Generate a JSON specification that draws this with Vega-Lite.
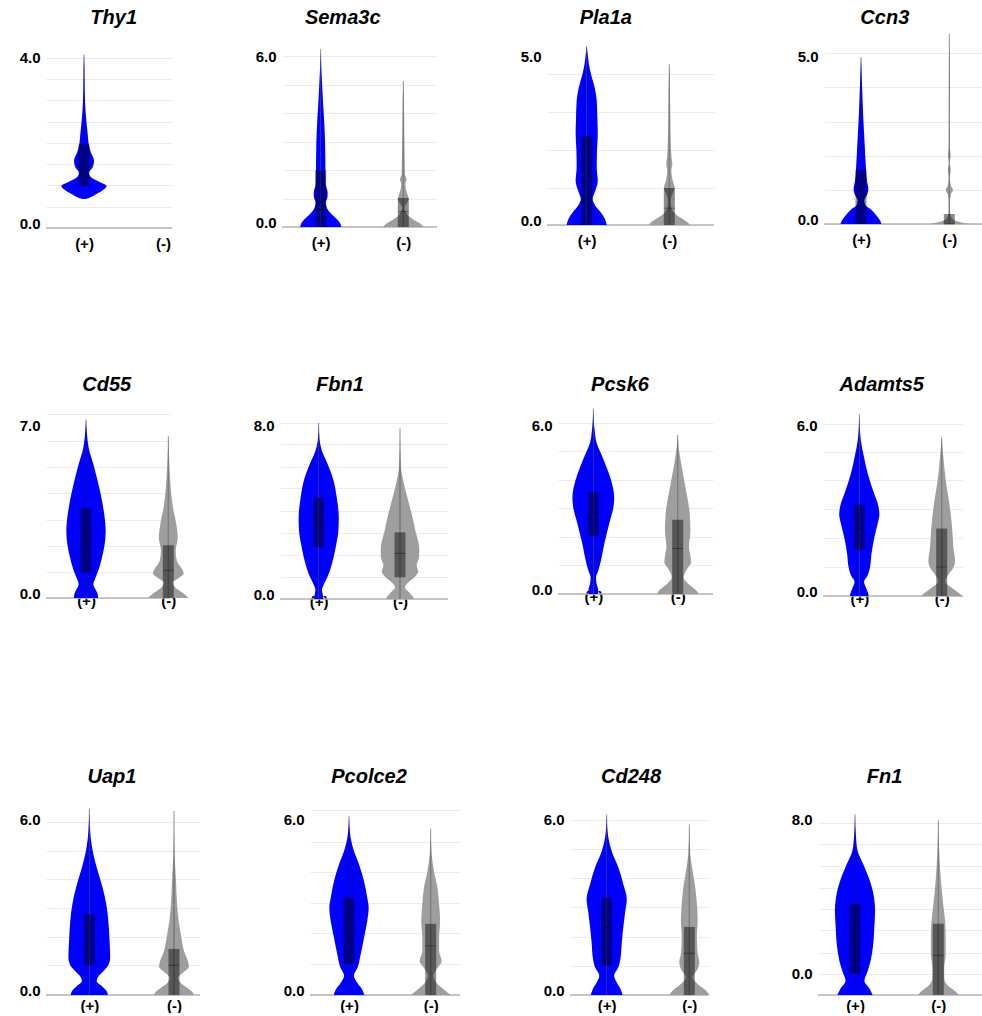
{
"$schema": "https://vega.github.io/schema/vega-lite/v6.json",
"background": "white",
"padding": {"left": 19, "top": 8, "right": 0, "bottom": 0},
"config": {
 "view": {"stroke": null},
 "font": "Liberation Sans",
 "axis": {"labelFont": "Liberation Sans", "labelFontSize": 15, "labelFontWeight": "bold", "labelColor": "#000000", "domain": false, "ticks": false, "tickSize": 0, "labelOverlap": false, "labelFlush": false},
 "axisY": {"labelPadding": 6, "grid": true, "gridColor": "#ececec", "gridWidth": 1},
 "axisX": {"grid": false, "labelAngle": 0},
 "title": {"font": "Liberation Sans", "fontSize": 20, "fontWeight": "bold", "fontStyle": "italic", "color": "#000000", "baseline": "alphabetic", "anchor": "middle", "frame": "group"}
},
"datasets": {
 "violin": [
  {"gene":"Thy1","grp":"(+)","v":4.08,"d":0},{"gene":"Thy1","grp":"(+)","v":3.78,"d":0.02},{"gene":"Thy1","grp":"(+)","v":3.39,"d":0.03},{"gene":"Thy1","grp":"(+)","v":2.99,"d":0.05},{"gene":"Thy1","grp":"(+)","v":2.6,"d":0.1},{"gene":"Thy1","grp":"(+)","v":2.21,"d":0.18},{"gene":"Thy1","grp":"(+)","v":1.97,"d":0.23},{"gene":"Thy1","grp":"(+)","v":1.78,"d":0.33},{"gene":"Thy1","grp":"(+)","v":1.58,"d":0.49},{"gene":"Thy1","grp":"(+)","v":1.42,"d":0.41},{"gene":"Thy1","grp":"(+)","v":1.3,"d":0.23},{"gene":"Thy1","grp":"(+)","v":1.19,"d":0.36},{"gene":"Thy1","grp":"(+)","v":1.07,"d":0.81},{"gene":"Thy1","grp":"(+)","v":0.99,"d":1.1},{"gene":"Thy1","grp":"(+)","v":0.91,"d":0.98},{"gene":"Thy1","grp":"(+)","v":0.81,"d":0.65},{"gene":"Thy1","grp":"(+)","v":0.73,"d":0.35},{"gene":"Thy1","grp":"(+)","v":0.69,"d":0.12},{"gene":"Thy1","grp":"(+)","v":0.68,"d":0},

  {"gene":"Sema3c","grp":"(+)","v":6.25,"d":0},{"gene":"Sema3c","grp":"(+)","v":5.6,"d":0.03},{"gene":"Sema3c","grp":"(+)","v":5.02,"d":0.07},{"gene":"Sema3c","grp":"(+)","v":4.43,"d":0.11},{"gene":"Sema3c","grp":"(+)","v":3.85,"d":0.16},{"gene":"Sema3c","grp":"(+)","v":3.03,"d":0.21},{"gene":"Sema3c","grp":"(+)","v":2.09,"d":0.23},{"gene":"Sema3c","grp":"(+)","v":1.51,"d":0.24},{"gene":"Sema3c","grp":"(+)","v":1.22,"d":0.34},{"gene":"Sema3c","grp":"(+)","v":1.04,"d":0.33},{"gene":"Sema3c","grp":"(+)","v":0.87,"d":0.24},{"gene":"Sema3c","grp":"(+)","v":0.63,"d":0.33},{"gene":"Sema3c","grp":"(+)","v":0.46,"d":0.52},{"gene":"Sema3c","grp":"(+)","v":0.28,"d":0.78},{"gene":"Sema3c","grp":"(+)","v":0.14,"d":0.94},{"gene":"Sema3c","grp":"(+)","v":0,"d":1},
  {"gene":"Sema3c","grp":"(-)","v":5.13,"d":0},{"gene":"Sema3c","grp":"(-)","v":4.43,"d":0.03},{"gene":"Sema3c","grp":"(-)","v":3.26,"d":0.05},{"gene":"Sema3c","grp":"(-)","v":2.33,"d":0.07},{"gene":"Sema3c","grp":"(-)","v":1.86,"d":0.08},{"gene":"Sema3c","grp":"(-)","v":1.68,"d":0.16},{"gene":"Sema3c","grp":"(-)","v":1.51,"d":0.1},{"gene":"Sema3c","grp":"(-)","v":1.33,"d":0.13},{"gene":"Sema3c","grp":"(-)","v":1.16,"d":0.2},{"gene":"Sema3c","grp":"(-)","v":0.98,"d":0.26},{"gene":"Sema3c","grp":"(-)","v":0.83,"d":0.16},{"gene":"Sema3c","grp":"(-)","v":0.69,"d":0.05},{"gene":"Sema3c","grp":"(-)","v":0.51,"d":0.13},{"gene":"Sema3c","grp":"(-)","v":0.34,"d":0.33},{"gene":"Sema3c","grp":"(-)","v":0.19,"d":0.65},{"gene":"Sema3c","grp":"(-)","v":0.08,"d":0.89},{"gene":"Sema3c","grp":"(-)","v":0,"d":1},

  {"gene":"Pla1a","grp":"(+)","v":5.32,"d":0},{"gene":"Pla1a","grp":"(+)","v":5.07,"d":0.05},{"gene":"Pla1a","grp":"(+)","v":4.77,"d":0.11},{"gene":"Pla1a","grp":"(+)","v":4.48,"d":0.21},{"gene":"Pla1a","grp":"(+)","v":4.08,"d":0.39},{"gene":"Pla1a","grp":"(+)","v":3.69,"d":0.49},{"gene":"Pla1a","grp":"(+)","v":3.19,"d":0.52},{"gene":"Pla1a","grp":"(+)","v":2.7,"d":0.54},{"gene":"Pla1a","grp":"(+)","v":2.2,"d":0.5},{"gene":"Pla1a","grp":"(+)","v":1.71,"d":0.49},{"gene":"Pla1a","grp":"(+)","v":1.31,"d":0.54},{"gene":"Pla1a","grp":"(+)","v":1.02,"d":0.42},{"gene":"Pla1a","grp":"(+)","v":0.77,"d":0.29},{"gene":"Pla1a","grp":"(+)","v":0.57,"d":0.42},{"gene":"Pla1a","grp":"(+)","v":0.38,"d":0.68},{"gene":"Pla1a","grp":"(+)","v":0.18,"d":0.89},{"gene":"Pla1a","grp":"(+)","v":0,"d":0.98},
  {"gene":"Pla1a","grp":"(-)","v":4.79,"d":0},{"gene":"Pla1a","grp":"(-)","v":4.18,"d":0.03},{"gene":"Pla1a","grp":"(-)","v":3.19,"d":0.05},{"gene":"Pla1a","grp":"(-)","v":2.5,"d":0.07},{"gene":"Pla1a","grp":"(-)","v":2.01,"d":0.11},{"gene":"Pla1a","grp":"(-)","v":1.81,"d":0.15},{"gene":"Pla1a","grp":"(-)","v":1.61,"d":0.1},{"gene":"Pla1a","grp":"(-)","v":1.36,"d":0.15},{"gene":"Pla1a","grp":"(-)","v":1.1,"d":0.26},{"gene":"Pla1a","grp":"(-)","v":0.92,"d":0.15},{"gene":"Pla1a","grp":"(-)","v":0.72,"d":0.07},{"gene":"Pla1a","grp":"(-)","v":0.52,"d":0.1},{"gene":"Pla1a","grp":"(-)","v":0.33,"d":0.29},{"gene":"Pla1a","grp":"(-)","v":0.18,"d":0.65},{"gene":"Pla1a","grp":"(-)","v":0.08,"d":0.89},{"gene":"Pla1a","grp":"(-)","v":0,"d":1},

  {"gene":"Ccn3","grp":"(+)","v":5,"d":0},{"gene":"Ccn3","grp":"(+)","v":4.18,"d":0.05},{"gene":"Ccn3","grp":"(+)","v":3.19,"d":0.11},{"gene":"Ccn3","grp":"(+)","v":2.39,"d":0.18},{"gene":"Ccn3","grp":"(+)","v":1.69,"d":0.24},{"gene":"Ccn3","grp":"(+)","v":1.29,"d":0.29},{"gene":"Ccn3","grp":"(+)","v":1.05,"d":0.36},{"gene":"Ccn3","grp":"(+)","v":0.85,"d":0.28},{"gene":"Ccn3","grp":"(+)","v":0.7,"d":0.16},{"gene":"Ccn3","grp":"(+)","v":0.58,"d":0.2},{"gene":"Ccn3","grp":"(+)","v":0.45,"d":0.46},{"gene":"Ccn3","grp":"(+)","v":0.25,"d":0.76},{"gene":"Ccn3","grp":"(+)","v":0.1,"d":0.94},{"gene":"Ccn3","grp":"(+)","v":0,"d":1},
  {"gene":"Ccn3","grp":"(-)","v":5.7,"d":0},{"gene":"Ccn3","grp":"(-)","v":4.68,"d":0.02},{"gene":"Ccn3","grp":"(-)","v":2.29,"d":0.03},{"gene":"Ccn3","grp":"(-)","v":2.04,"d":0.07},{"gene":"Ccn3","grp":"(-)","v":1.84,"d":0.02},{"gene":"Ccn3","grp":"(-)","v":1.61,"d":0.07},{"gene":"Ccn3","grp":"(-)","v":1.39,"d":0.03},{"gene":"Ccn3","grp":"(-)","v":1.15,"d":0.07},{"gene":"Ccn3","grp":"(-)","v":1.02,"d":0.18},{"gene":"Ccn3","grp":"(-)","v":0.88,"d":0.07},{"gene":"Ccn3","grp":"(-)","v":0.6,"d":0.03},{"gene":"Ccn3","grp":"(-)","v":0.3,"d":0.05},{"gene":"Ccn3","grp":"(-)","v":0.15,"d":0.16},{"gene":"Ccn3","grp":"(-)","v":0.06,"d":0.49},{"gene":"Ccn3","grp":"(-)","v":0,"d":1},

  {"gene":"Cd55","grp":"(+)","v":7.24,"d":0},{"gene":"Cd55","grp":"(+)","v":6.64,"d":0.05},{"gene":"Cd55","grp":"(+)","v":6.09,"d":0.13},{"gene":"Cd55","grp":"(+)","v":5.42,"d":0.36},{"gene":"Cd55","grp":"(+)","v":4.74,"d":0.57},{"gene":"Cd55","grp":"(+)","v":4.07,"d":0.75},{"gene":"Cd55","grp":"(+)","v":3.39,"d":0.89},{"gene":"Cd55","grp":"(+)","v":2.72,"d":0.96},{"gene":"Cd55","grp":"(+)","v":2.18,"d":0.91},{"gene":"Cd55","grp":"(+)","v":1.64,"d":0.78},{"gene":"Cd55","grp":"(+)","v":1.16,"d":0.62},{"gene":"Cd55","grp":"(+)","v":0.82,"d":0.46},{"gene":"Cd55","grp":"(+)","v":0.55,"d":0.36},{"gene":"Cd55","grp":"(+)","v":0.31,"d":0.49},{"gene":"Cd55","grp":"(+)","v":0.15,"d":0.57},{"gene":"Cd55","grp":"(+)","v":0,"d":0.59},
  {"gene":"Cd55","grp":"(-)","v":6.57,"d":0},{"gene":"Cd55","grp":"(-)","v":5.42,"d":0.05},{"gene":"Cd55","grp":"(-)","v":4.34,"d":0.13},{"gene":"Cd55","grp":"(-)","v":3.66,"d":0.23},{"gene":"Cd55","grp":"(-)","v":2.99,"d":0.39},{"gene":"Cd55","grp":"(-)","v":2.45,"d":0.46},{"gene":"Cd55","grp":"(-)","v":1.91,"d":0.36},{"gene":"Cd55","grp":"(-)","v":1.5,"d":0.42},{"gene":"Cd55","grp":"(-)","v":1.16,"d":0.68},{"gene":"Cd55","grp":"(-)","v":0.99,"d":0.75},{"gene":"Cd55","grp":"(-)","v":0.8,"d":0.49},{"gene":"Cd55","grp":"(-)","v":0.62,"d":0.2},{"gene":"Cd55","grp":"(-)","v":0.42,"d":0.36},{"gene":"Cd55","grp":"(-)","v":0.22,"d":0.68},{"gene":"Cd55","grp":"(-)","v":0.08,"d":0.89},{"gene":"Cd55","grp":"(-)","v":0,"d":0.98},

  {"gene":"Fbn1","grp":"(+)","v":8.12,"d":0},{"gene":"Fbn1","grp":"(+)","v":7.28,"d":0.05},{"gene":"Fbn1","grp":"(+)","v":6.82,"d":0.16},{"gene":"Fbn1","grp":"(+)","v":6.21,"d":0.44},{"gene":"Fbn1","grp":"(+)","v":5.44,"d":0.73},{"gene":"Fbn1","grp":"(+)","v":4.67,"d":0.88},{"gene":"Fbn1","grp":"(+)","v":3.75,"d":0.98},{"gene":"Fbn1","grp":"(+)","v":3.14,"d":0.96},{"gene":"Fbn1","grp":"(+)","v":2.53,"d":0.86},{"gene":"Fbn1","grp":"(+)","v":1.92,"d":0.73},{"gene":"Fbn1","grp":"(+)","v":1.38,"d":0.57},{"gene":"Fbn1","grp":"(+)","v":1,"d":0.42},{"gene":"Fbn1","grp":"(+)","v":0.69,"d":0.26},{"gene":"Fbn1","grp":"(+)","v":0.41,"d":0.16},{"gene":"Fbn1","grp":"(+)","v":0.2,"d":0.2},{"gene":"Fbn1","grp":"(+)","v":0,"d":0.23},
  {"gene":"Fbn1","grp":"(-)","v":7.86,"d":0},{"gene":"Fbn1","grp":"(-)","v":6.05,"d":0.05},{"gene":"Fbn1","grp":"(-)","v":5.44,"d":0.16},{"gene":"Fbn1","grp":"(-)","v":4.67,"d":0.36},{"gene":"Fbn1","grp":"(-)","v":3.91,"d":0.57},{"gene":"Fbn1","grp":"(-)","v":3.14,"d":0.75},{"gene":"Fbn1","grp":"(-)","v":2.3,"d":0.94},{"gene":"Fbn1","grp":"(-)","v":1.92,"d":0.93},{"gene":"Fbn1","grp":"(-)","v":1.53,"d":0.81},{"gene":"Fbn1","grp":"(-)","v":1.27,"d":0.89},{"gene":"Fbn1","grp":"(-)","v":1.03,"d":0.73},{"gene":"Fbn1","grp":"(-)","v":0.77,"d":0.41},{"gene":"Fbn1","grp":"(-)","v":0.54,"d":0.24},{"gene":"Fbn1","grp":"(-)","v":0.31,"d":0.44},{"gene":"Fbn1","grp":"(-)","v":0.11,"d":0.62},{"gene":"Fbn1","grp":"(-)","v":0,"d":0.68},

  {"gene":"Pcsk6","grp":"(+)","v":6.6,"d":0},{"gene":"Pcsk6","grp":"(+)","v":5.8,"d":0.07},{"gene":"Pcsk6","grp":"(+)","v":5.38,"d":0.16},{"gene":"Pcsk6","grp":"(+)","v":4.97,"d":0.39},{"gene":"Pcsk6","grp":"(+)","v":4.5,"d":0.65},{"gene":"Pcsk6","grp":"(+)","v":4.02,"d":0.88},{"gene":"Pcsk6","grp":"(+)","v":3.43,"d":1.02},{"gene":"Pcsk6","grp":"(+)","v":3.08,"d":0.98},{"gene":"Pcsk6","grp":"(+)","v":2.6,"d":0.81},{"gene":"Pcsk6","grp":"(+)","v":2.13,"d":0.65},{"gene":"Pcsk6","grp":"(+)","v":1.66,"d":0.5},{"gene":"Pcsk6","grp":"(+)","v":1.18,"d":0.37},{"gene":"Pcsk6","grp":"(+)","v":0.83,"d":0.24},{"gene":"Pcsk6","grp":"(+)","v":0.59,"d":0.13},{"gene":"Pcsk6","grp":"(+)","v":0.36,"d":0.16},{"gene":"Pcsk6","grp":"(+)","v":0.14,"d":0.24},{"gene":"Pcsk6","grp":"(+)","v":0,"d":0.24},
  {"gene":"Pcsk6","grp":"(-)","v":5.66,"d":0},{"gene":"Pcsk6","grp":"(-)","v":5.21,"d":0.05},{"gene":"Pcsk6","grp":"(-)","v":4.5,"d":0.2},{"gene":"Pcsk6","grp":"(-)","v":3.67,"d":0.41},{"gene":"Pcsk6","grp":"(-)","v":2.84,"d":0.59},{"gene":"Pcsk6","grp":"(-)","v":2.25,"d":0.62},{"gene":"Pcsk6","grp":"(-)","v":1.66,"d":0.55},{"gene":"Pcsk6","grp":"(-)","v":1.36,"d":0.62},{"gene":"Pcsk6","grp":"(-)","v":1.12,"d":0.65},{"gene":"Pcsk6","grp":"(-)","v":0.89,"d":0.46},{"gene":"Pcsk6","grp":"(-)","v":0.59,"d":0.29},{"gene":"Pcsk6","grp":"(-)","v":0.36,"d":0.52},{"gene":"Pcsk6","grp":"(-)","v":0.14,"d":0.89},{"gene":"Pcsk6","grp":"(-)","v":0,"d":1.02},

  {"gene":"Adamts5","grp":"(+)","v":6.39,"d":0},{"gene":"Adamts5","grp":"(+)","v":5.45,"d":0.08},{"gene":"Adamts5","grp":"(+)","v":4.98,"d":0.2},{"gene":"Adamts5","grp":"(+)","v":4.28,"d":0.42},{"gene":"Adamts5","grp":"(+)","v":3.69,"d":0.68},{"gene":"Adamts5","grp":"(+)","v":3.16,"d":0.93},{"gene":"Adamts5","grp":"(+)","v":2.87,"d":0.98},{"gene":"Adamts5","grp":"(+)","v":2.52,"d":0.89},{"gene":"Adamts5","grp":"(+)","v":2.05,"d":0.73},{"gene":"Adamts5","grp":"(+)","v":1.46,"d":0.59},{"gene":"Adamts5","grp":"(+)","v":1,"d":0.52},{"gene":"Adamts5","grp":"(+)","v":0.7,"d":0.39},{"gene":"Adamts5","grp":"(+)","v":0.5,"d":0.23},{"gene":"Adamts5","grp":"(+)","v":0.29,"d":0.33},{"gene":"Adamts5","grp":"(+)","v":0.12,"d":0.42},{"gene":"Adamts5","grp":"(+)","v":0,"d":0.46},
  {"gene":"Adamts5","grp":"(-)","v":5.59,"d":0},{"gene":"Adamts5","grp":"(-)","v":4.98,"d":0.07},{"gene":"Adamts5","grp":"(-)","v":4.04,"d":0.2},{"gene":"Adamts5","grp":"(-)","v":3.46,"d":0.33},{"gene":"Adamts5","grp":"(-)","v":2.87,"d":0.44},{"gene":"Adamts5","grp":"(-)","v":2.29,"d":0.52},{"gene":"Adamts5","grp":"(-)","v":1.7,"d":0.57},{"gene":"Adamts5","grp":"(-)","v":1.23,"d":0.65},{"gene":"Adamts5","grp":"(-)","v":1,"d":0.57},{"gene":"Adamts5","grp":"(-)","v":0.76,"d":0.33},{"gene":"Adamts5","grp":"(-)","v":0.53,"d":0.16},{"gene":"Adamts5","grp":"(-)","v":0.29,"d":0.49},{"gene":"Adamts5","grp":"(-)","v":0.12,"d":0.81},{"gene":"Adamts5","grp":"(-)","v":0,"d":1},

  {"gene":"Uap1","grp":"(+)","v":6.4,"d":0},{"gene":"Uap1","grp":"(+)","v":5.39,"d":0.07},{"gene":"Uap1","grp":"(+)","v":4.82,"d":0.2},{"gene":"Uap1","grp":"(+)","v":4.25,"d":0.41},{"gene":"Uap1","grp":"(+)","v":3.68,"d":0.65},{"gene":"Uap1","grp":"(+)","v":3.1,"d":0.83},{"gene":"Uap1","grp":"(+)","v":2.53,"d":0.93},{"gene":"Uap1","grp":"(+)","v":1.96,"d":0.98},{"gene":"Uap1","grp":"(+)","v":1.27,"d":1.02},{"gene":"Uap1","grp":"(+)","v":1.04,"d":0.94},{"gene":"Uap1","grp":"(+)","v":0.81,"d":0.68},{"gene":"Uap1","grp":"(+)","v":0.61,"d":0.42},{"gene":"Uap1","grp":"(+)","v":0.47,"d":0.36},{"gene":"Uap1","grp":"(+)","v":0.3,"d":0.62},{"gene":"Uap1","grp":"(+)","v":0.13,"d":0.85},{"gene":"Uap1","grp":"(+)","v":0,"d":0.91},
  {"gene":"Uap1","grp":"(-)","v":6.31,"d":0},{"gene":"Uap1","grp":"(-)","v":4.82,"d":0.03},{"gene":"Uap1","grp":"(-)","v":3.9,"d":0.1},{"gene":"Uap1","grp":"(-)","v":3.1,"d":0.15},{"gene":"Uap1","grp":"(-)","v":2.53,"d":0.23},{"gene":"Uap1","grp":"(-)","v":1.96,"d":0.36},{"gene":"Uap1","grp":"(-)","v":1.5,"d":0.49},{"gene":"Uap1","grp":"(-)","v":1.16,"d":0.68},{"gene":"Uap1","grp":"(-)","v":0.98,"d":0.73},{"gene":"Uap1","grp":"(-)","v":0.81,"d":0.52},{"gene":"Uap1","grp":"(-)","v":0.58,"d":0.2},{"gene":"Uap1","grp":"(-)","v":0.41,"d":0.33},{"gene":"Uap1","grp":"(-)","v":0.24,"d":0.65},{"gene":"Uap1","grp":"(-)","v":0.09,"d":0.91},{"gene":"Uap1","grp":"(-)","v":0,"d":0.98},

  {"gene":"Pcolce2","grp":"(+)","v":6.11,"d":0},{"gene":"Pcolce2","grp":"(+)","v":5.37,"d":0.08},{"gene":"Pcolce2","grp":"(+)","v":4.92,"d":0.24},{"gene":"Pcolce2","grp":"(+)","v":4.46,"d":0.49},{"gene":"Pcolce2","grp":"(+)","v":3.89,"d":0.73},{"gene":"Pcolce2","grp":"(+)","v":3.32,"d":0.89},{"gene":"Pcolce2","grp":"(+)","v":2.98,"d":0.96},{"gene":"Pcolce2","grp":"(+)","v":2.52,"d":0.89},{"gene":"Pcolce2","grp":"(+)","v":1.95,"d":0.73},{"gene":"Pcolce2","grp":"(+)","v":1.38,"d":0.57},{"gene":"Pcolce2","grp":"(+)","v":0.92,"d":0.41},{"gene":"Pcolce2","grp":"(+)","v":0.67,"d":0.24},{"gene":"Pcolce2","grp":"(+)","v":0.41,"d":0.41},{"gene":"Pcolce2","grp":"(+)","v":0.18,"d":0.65},{"gene":"Pcolce2","grp":"(+)","v":0,"d":0.75},
  {"gene":"Pcolce2","grp":"(-)","v":5.69,"d":0},{"gene":"Pcolce2","grp":"(-)","v":4.8,"d":0.05},{"gene":"Pcolce2","grp":"(-)","v":4.23,"d":0.16},{"gene":"Pcolce2","grp":"(-)","v":3.66,"d":0.33},{"gene":"Pcolce2","grp":"(-)","v":3.09,"d":0.41},{"gene":"Pcolce2","grp":"(-)","v":2.52,"d":0.46},{"gene":"Pcolce2","grp":"(-)","v":1.95,"d":0.41},{"gene":"Pcolce2","grp":"(-)","v":1.49,"d":0.41},{"gene":"Pcolce2","grp":"(-)","v":1.15,"d":0.54},{"gene":"Pcolce2","grp":"(-)","v":0.92,"d":0.33},{"gene":"Pcolce2","grp":"(-)","v":0.67,"d":0.13},{"gene":"Pcolce2","grp":"(-)","v":0.41,"d":0.29},{"gene":"Pcolce2","grp":"(-)","v":0.18,"d":0.65},{"gene":"Pcolce2","grp":"(-)","v":0,"d":0.98},

  {"gene":"Cd248","grp":"(+)","v":6.18,"d":0},{"gene":"Cd248","grp":"(+)","v":5.39,"d":0.08},{"gene":"Cd248","grp":"(+)","v":4.93,"d":0.24},{"gene":"Cd248","grp":"(+)","v":4.36,"d":0.57},{"gene":"Cd248","grp":"(+)","v":3.79,"d":0.81},{"gene":"Cd248","grp":"(+)","v":3.28,"d":0.98},{"gene":"Cd248","grp":"(+)","v":2.88,"d":0.91},{"gene":"Cd248","grp":"(+)","v":2.31,"d":0.81},{"gene":"Cd248","grp":"(+)","v":1.74,"d":0.73},{"gene":"Cd248","grp":"(+)","v":1.29,"d":0.68},{"gene":"Cd248","grp":"(+)","v":0.95,"d":0.57},{"gene":"Cd248","grp":"(+)","v":0.66,"d":0.36},{"gene":"Cd248","grp":"(+)","v":0.43,"d":0.49},{"gene":"Cd248","grp":"(+)","v":0.2,"d":0.68},{"gene":"Cd248","grp":"(+)","v":0,"d":0.78},
  {"gene":"Cd248","grp":"(-)","v":5.84,"d":0},{"gene":"Cd248","grp":"(-)","v":4.82,"d":0.05},{"gene":"Cd248","grp":"(-)","v":4.25,"d":0.16},{"gene":"Cd248","grp":"(-)","v":3.68,"d":0.29},{"gene":"Cd248","grp":"(-)","v":3.11,"d":0.37},{"gene":"Cd248","grp":"(-)","v":2.54,"d":0.41},{"gene":"Cd248","grp":"(-)","v":1.97,"d":0.37},{"gene":"Cd248","grp":"(-)","v":1.4,"d":0.41},{"gene":"Cd248","grp":"(-)","v":1.12,"d":0.49},{"gene":"Cd248","grp":"(-)","v":0.89,"d":0.41},{"gene":"Cd248","grp":"(-)","v":0.6,"d":0.16},{"gene":"Cd248","grp":"(-)","v":0.38,"d":0.41},{"gene":"Cd248","grp":"(-)","v":0.15,"d":0.81},{"gene":"Cd248","grp":"(-)","v":0,"d":0.98},

  {"gene":"Fn1","grp":"(+)","v":8.26,"d":0},{"gene":"Fn1","grp":"(+)","v":7.05,"d":0.05},{"gene":"Fn1","grp":"(+)","v":6.36,"d":0.13},{"gene":"Fn1","grp":"(+)","v":5.66,"d":0.41},{"gene":"Fn1","grp":"(+)","v":4.8,"d":0.73},{"gene":"Fn1","grp":"(+)","v":3.94,"d":0.93},{"gene":"Fn1","grp":"(+)","v":3.25,"d":0.98},{"gene":"Fn1","grp":"(+)","v":2.38,"d":0.94},{"gene":"Fn1","grp":"(+)","v":1.52,"d":0.89},{"gene":"Fn1","grp":"(+)","v":0.66,"d":0.76},{"gene":"Fn1","grp":"(+)","v":0.14,"d":0.62},{"gene":"Fn1","grp":"(+)","v":-0.38,"d":0.46},{"gene":"Fn1","grp":"(+)","v":-0.73,"d":0.68},{"gene":"Fn1","grp":"(+)","v":-1.1,"d":0.86},
  {"gene":"Fn1","grp":"(-)","v":7.94,"d":0},{"gene":"Fn1","grp":"(-)","v":6.18,"d":0.05},{"gene":"Fn1","grp":"(-)","v":4.8,"d":0.13},{"gene":"Fn1","grp":"(-)","v":3.59,"d":0.24},{"gene":"Fn1","grp":"(-)","v":2.73,"d":0.33},{"gene":"Fn1","grp":"(-)","v":1.87,"d":0.36},{"gene":"Fn1","grp":"(-)","v":1,"d":0.36},{"gene":"Fn1","grp":"(-)","v":0.31,"d":0.29},{"gene":"Fn1","grp":"(-)","v":-0.21,"d":0.29},{"gene":"Fn1","grp":"(-)","v":-0.64,"d":0.49},{"gene":"Fn1","grp":"(-)","v":-0.9,"d":0.81},{"gene":"Fn1","grp":"(-)","v":-1.1,"d":1}
 ],
 "box": [
  {"gene":"Thy1","grp":"(+)","q1":0.99,"med":1.3,"q3":1.97,"lo":0.68,"hi":4.08},
  {"gene":"Sema3c","grp":"(+)","q1":0,"med":0.6,"q3":2.0,"lo":0,"hi":6.25},
  {"gene":"Sema3c","grp":"(-)","q1":0,"med":0.54,"q3":1.02,"lo":0,"hi":5.13},
  {"gene":"Pla1a","grp":"(+)","q1":0,"med":1.3,"q3":2.65,"lo":0,"hi":5.32},
  {"gene":"Pla1a","grp":"(-)","q1":0,"med":0.5,"q3":1.1,"lo":0,"hi":4.79},
  {"gene":"Ccn3","grp":"(+)","q1":0,"med":0.5,"q3":1.61,"lo":0,"hi":5.0},
  {"gene":"Ccn3","grp":"(-)","q1":0,"med":0,"q3":0.3,"lo":0,"hi":5.7},
  {"gene":"Cd55","grp":"(+)","q1":1.03,"med":2.51,"q3":3.66,"lo":0,"hi":7.24},
  {"gene":"Cd55","grp":"(-)","q1":0,"med":1.12,"q3":2.14,"lo":0,"hi":6.57},
  {"gene":"Fbn1","grp":"(+)","q1":2.38,"med":3.45,"q3":4.67,"lo":0,"hi":8.12},
  {"gene":"Fbn1","grp":"(-)","q1":1.0,"med":2.1,"q3":3.07,"lo":0,"hi":7.86},
  {"gene":"Pcsk6","grp":"(+)","q1":2.05,"med":2.9,"q3":3.63,"lo":0,"hi":6.6},
  {"gene":"Pcsk6","grp":"(-)","q1":0,"med":1.62,"q3":2.64,"lo":0,"hi":5.66},
  {"gene":"Adamts5","grp":"(+)","q1":1.61,"med":2.37,"q3":3.21,"lo":0,"hi":6.39},
  {"gene":"Adamts5","grp":"(-)","q1":0,"med":1.02,"q3":2.37,"lo":0,"hi":5.59},
  {"gene":"Uap1","grp":"(+)","q1":1.01,"med":1.58,"q3":2.78,"lo":0,"hi":6.4},
  {"gene":"Uap1","grp":"(-)","q1":0,"med":1.02,"q3":1.58,"lo":0,"hi":6.31},
  {"gene":"Pcolce2","grp":"(+)","q1":1.06,"med":2.38,"q3":3.33,"lo":0,"hi":6.11},
  {"gene":"Pcolce2","grp":"(-)","q1":0,"med":1.68,"q3":2.43,"lo":0,"hi":5.69},
  {"gene":"Cd248","grp":"(+)","q1":1.0,"med":2.31,"q3":3.34,"lo":0,"hi":6.18},
  {"gene":"Cd248","grp":"(-)","q1":0,"med":1.43,"q3":2.33,"lo":0,"hi":5.84},
  {"gene":"Fn1","grp":"(+)","q1":0,"med":1.8,"q3":3.63,"lo":-1.1,"hi":8.26},
  {"gene":"Fn1","grp":"(-)","q1":-1.1,"med":0.95,"q3":2.59,"lo":-1.1,"hi":7.94}
 ]
},
"spacing": 370,
"bounds": "flush",
"vconcat": [
 {"hconcat": [
  {"width": 126, "height": 197, "title": {"text": "Thy1", "offset": 3, "dx": 4.7}, "resolve": {"scale": {"x": "independent"}, "axis": {"y": "independent"}},
   "layer": [
    {"data": {"name": "box"}, "transform": [{"filter": "datum.gene == 'Thy1' && datum.grp == '(+)'"}], "mark": {"type": "rule", "color": "#b4b4b4", "strokeWidth": 1.5},
     "encoding": {"y": {"datum": 0, "type": "quantitative", "scale": {"domain": [0, 4.635], "nice": false, "zero": false},
       "axis": {"title": null, "orient": "left", "labelOverlap": false, "labelFlush": false, "values": [0, 0.5, 1, 1.5, 2, 2.5, 3, 3.5, 4], "labelExpr": "datum.value == 0 ? '0.0' : datum.value == 4 ? '4.0' : ''",
        "labelBaseline": {"condition": {"test": "datum.value == 0", "value": "alphabetic"}, "value": "middle"}}}}},
    {"data": {"name": "violin"}, "transform": [{"filter": "datum.gene == 'Thy1' && datum.grp == '(+)'"}], "mark": {"type": "area", "orient": "horizontal", "interpolate": "monotone", "color": "#0000ff"},
     "encoding": {"x": {"field": "d", "type": "quantitative", "stack": null, "scale": {"domain": [0, 1], "range": [38, 58.5]}, "axis": null},
      "y": {"field": "v", "type": "quantitative", "scale": {"domain": [0, 4.635], "nice": false, "zero": false}, "axis": null}}},
    {"data": {"name": "violin"}, "transform": [{"filter": "datum.gene == 'Thy1' && datum.grp == '(+)'"}], "mark": {"type": "area", "orient": "horizontal", "interpolate": "monotone", "color": "#0000ff"},
     "encoding": {"x": {"field": "d", "type": "quantitative", "stack": null, "scale": {"domain": [0, 1], "range": [38, 17.5]}, "axis": null},
      "y": {"field": "v", "type": "quantitative", "scale": {"domain": [0, 4.635], "nice": false, "zero": false}, "axis": null}}},
    {"data": {"name": "box"}, "transform": [{"filter": "datum.gene == 'Thy1'"}], "mark": {"type": "rule", "color": "#222222", "opacity": 0.45, "strokeWidth": 1},
     "encoding": {"x": {"field": "grp", "type": "nominal", "scale": {"type": "point", "domain": ["(+)", "(-)"], "range": [38, 117], "padding": 0}, "axis": null},
      "y": {"field": "lo", "type": "quantitative", "scale": {"domain": [0, 4.635], "nice": false, "zero": false}, "axis": null}, "y2": {"field": "hi"}}},
    {"data": {"name": "box"}, "transform": [{"filter": "datum.gene == 'Thy1'"}], "mark": {"type": "bar", "width": 11, "color": "#000000", "opacity": 0.45},
     "encoding": {"x": {"field": "grp", "type": "nominal", "scale": {"type": "point", "domain": ["(+)", "(-)"], "range": [38, 117], "padding": 0}, "axis": {"title": null, "labelPadding": 8}},
      "y": {"field": "q1", "type": "quantitative", "scale": {"domain": [0, 4.635], "nice": false, "zero": false}, "axis": null}, "y2": {"field": "q3"}}},
    {"data": {"name": "box"}, "transform": [{"filter": "datum.gene == 'Thy1'"}], "mark": {"type": "tick", "orient": "horizontal", "size": 11, "thickness": 1, "color": "#000000", "opacity": 0.35},
     "encoding": {"x": {"field": "grp", "type": "nominal", "scale": {"type": "point", "domain": ["(+)", "(-)"], "range": [38, 117], "padding": 0}, "axis": null},
      "y": {"field": "med", "type": "quantitative", "scale": {"domain": [0, 4.635], "nice": false, "zero": false}, "axis": null}}}
   ]},
  {"width": 155, "height": 196, "title": {"text": "Sema3c", "offset": 3, "dx": -16.8}, "resolve": {"scale": {"x": "independent"}, "axis": {"y": "independent"}},
   "layer": [
    {"data": {"name": "box"}, "transform": [{"filter": "datum.gene == 'Sema3c' && datum.grp == '(+)'"}], "mark": {"type": "rule", "color": "#b4b4b4", "strokeWidth": 1.5},
     "encoding": {"y": {"datum": 0, "type": "quantitative", "scale": {"domain": [0, 6.889], "nice": false, "zero": false},
       "axis": {"title": null, "orient": "left", "labelOverlap": false, "labelFlush": false, "values": [0, 1, 2, 3, 4, 5, 6], "labelExpr": "datum.value == 0 ? '0.0' : datum.value == 6 ? '6.0' : ''",
        "labelBaseline": {"condition": {"test": "datum.value == 0", "value": "alphabetic"}, "value": "middle"}}}}},
    {"data": {"name": "violin"}, "transform": [{"filter": "datum.gene == 'Sema3c' && datum.grp == '(+)'"}], "mark": {"type": "area", "orient": "horizontal", "interpolate": "monotone", "color": "#0000ff"},
     "encoding": {"x": {"field": "d", "type": "quantitative", "stack": null, "scale": {"domain": [0, 1], "range": [38.7, 59.2]}, "axis": null},
      "y": {"field": "v", "type": "quantitative", "scale": {"domain": [0, 6.889], "nice": false, "zero": false}, "axis": null}}},
    {"data": {"name": "violin"}, "transform": [{"filter": "datum.gene == 'Sema3c' && datum.grp == '(+)'"}], "mark": {"type": "area", "orient": "horizontal", "interpolate": "monotone", "color": "#0000ff"},
     "encoding": {"x": {"field": "d", "type": "quantitative", "stack": null, "scale": {"domain": [0, 1], "range": [38.7, 18.2]}, "axis": null},
      "y": {"field": "v", "type": "quantitative", "scale": {"domain": [0, 6.889], "nice": false, "zero": false}, "axis": null}}},
    {"data": {"name": "violin"}, "transform": [{"filter": "datum.gene == 'Sema3c' && datum.grp == '(-)'"}], "mark": {"type": "area", "orient": "horizontal", "interpolate": "monotone", "color": "#9e9e9e"},
     "encoding": {"x": {"field": "d", "type": "quantitative", "stack": null, "scale": {"domain": [0, 1], "range": [121.3, 141.8]}, "axis": null},
      "y": {"field": "v", "type": "quantitative", "scale": {"domain": [0, 6.889], "nice": false, "zero": false}, "axis": null}}},
    {"data": {"name": "violin"}, "transform": [{"filter": "datum.gene == 'Sema3c' && datum.grp == '(-)'"}], "mark": {"type": "area", "orient": "horizontal", "interpolate": "monotone", "color": "#9e9e9e"},
     "encoding": {"x": {"field": "d", "type": "quantitative", "stack": null, "scale": {"domain": [0, 1], "range": [121.3, 100.8]}, "axis": null},
      "y": {"field": "v", "type": "quantitative", "scale": {"domain": [0, 6.889], "nice": false, "zero": false}, "axis": null}}},
    {"data": {"name": "box"}, "transform": [{"filter": "datum.gene == 'Sema3c'"}], "mark": {"type": "rule", "color": "#222222", "opacity": 0.45, "strokeWidth": 1},
     "encoding": {"x": {"field": "grp", "type": "nominal", "scale": {"type": "point", "domain": ["(+)", "(-)"], "range": [38.7, 121.3], "padding": 0}, "axis": null},
      "y": {"field": "lo", "type": "quantitative", "scale": {"domain": [0, 6.889], "nice": false, "zero": false}, "axis": null}, "y2": {"field": "hi"}}},
    {"data": {"name": "box"}, "transform": [{"filter": "datum.gene == 'Sema3c'"}], "mark": {"type": "bar", "width": 11, "color": "#000000", "opacity": 0.45},
     "encoding": {"x": {"field": "grp", "type": "nominal", "scale": {"type": "point", "domain": ["(+)", "(-)"], "range": [38.7, 121.3], "padding": 0}, "axis": {"title": null, "labelPadding": 8}},
      "y": {"field": "q1", "type": "quantitative", "scale": {"domain": [0, 6.889], "nice": false, "zero": false}, "axis": null}, "y2": {"field": "q3"}}},
    {"data": {"name": "box"}, "transform": [{"filter": "datum.gene == 'Sema3c'"}], "mark": {"type": "tick", "orient": "horizontal", "size": 11, "thickness": 1, "color": "#000000", "opacity": 0.35},
     "encoding": {"x": {"field": "grp", "type": "nominal", "scale": {"type": "point", "domain": ["(+)", "(-)"], "range": [38.7, 121.3], "padding": 0}, "axis": null},
      "y": {"field": "med", "type": "quantitative", "scale": {"domain": [0, 6.889], "nice": false, "zero": false}, "axis": null}}}
   ]},
  {"width": 167, "height": 194, "title": {"text": "Pla1a", "offset": 3, "dx": -24.7}, "resolve": {"scale": {"x": "independent"}, "axis": {"y": "independent"}},
   "layer": [
    {"data": {"name": "box"}, "transform": [{"filter": "datum.gene == 'Pla1a' && datum.grp == '(+)'"}], "mark": {"type": "rule", "color": "#b4b4b4", "strokeWidth": 1.5},
     "encoding": {"y": {"datum": 0, "type": "quantitative", "scale": {"domain": [0, 5.763], "nice": false, "zero": false},
       "axis": {"title": null, "orient": "left", "labelOverlap": false, "labelFlush": false, "values": [0, 1.1, 2.22, 3.36, 4.48, 5], "labelExpr": "datum.value == 0 ? '0.0' : datum.value == 5 ? '5.0' : ''",
        "gridOpacity": {"condition": {"test": "datum.value == 5", "value": 0}, "value": 1},
        "labelBaseline": {"condition": {"test": "datum.value == 0", "value": "alphabetic"}, "value": "middle"}}}}},
    {"data": {"name": "violin"}, "transform": [{"filter": "datum.gene == 'Pla1a' && datum.grp == '(+)'"}], "mark": {"type": "area", "orient": "horizontal", "interpolate": "monotone", "color": "#0000ff"},
     "encoding": {"x": {"field": "d", "type": "quantitative", "stack": null, "scale": {"domain": [0, 1], "range": [39.7, 60.2]}, "axis": null},
      "y": {"field": "v", "type": "quantitative", "scale": {"domain": [0, 5.763], "nice": false, "zero": false}, "axis": null}}},
    {"data": {"name": "violin"}, "transform": [{"filter": "datum.gene == 'Pla1a' && datum.grp == '(+)'"}], "mark": {"type": "area", "orient": "horizontal", "interpolate": "monotone", "color": "#0000ff"},
     "encoding": {"x": {"field": "d", "type": "quantitative", "stack": null, "scale": {"domain": [0, 1], "range": [39.7, 19.2]}, "axis": null},
      "y": {"field": "v", "type": "quantitative", "scale": {"domain": [0, 5.763], "nice": false, "zero": false}, "axis": null}}},
    {"data": {"name": "violin"}, "transform": [{"filter": "datum.gene == 'Pla1a' && datum.grp == '(-)'"}], "mark": {"type": "area", "orient": "horizontal", "interpolate": "monotone", "color": "#9e9e9e"},
     "encoding": {"x": {"field": "d", "type": "quantitative", "stack": null, "scale": {"domain": [0, 1], "range": [122.3, 142.8]}, "axis": null},
      "y": {"field": "v", "type": "quantitative", "scale": {"domain": [0, 5.763], "nice": false, "zero": false}, "axis": null}}},
    {"data": {"name": "violin"}, "transform": [{"filter": "datum.gene == 'Pla1a' && datum.grp == '(-)'"}], "mark": {"type": "area", "orient": "horizontal", "interpolate": "monotone", "color": "#9e9e9e"},
     "encoding": {"x": {"field": "d", "type": "quantitative", "stack": null, "scale": {"domain": [0, 1], "range": [122.3, 101.8]}, "axis": null},
      "y": {"field": "v", "type": "quantitative", "scale": {"domain": [0, 5.763], "nice": false, "zero": false}, "axis": null}}},
    {"data": {"name": "box"}, "transform": [{"filter": "datum.gene == 'Pla1a'"}], "mark": {"type": "rule", "color": "#222222", "opacity": 0.45, "strokeWidth": 1},
     "encoding": {"x": {"field": "grp", "type": "nominal", "scale": {"type": "point", "domain": ["(+)", "(-)"], "range": [39.7, 122.3], "padding": 0}, "axis": null},
      "y": {"field": "lo", "type": "quantitative", "scale": {"domain": [0, 5.763], "nice": false, "zero": false}, "axis": null}, "y2": {"field": "hi"}}},
    {"data": {"name": "box"}, "transform": [{"filter": "datum.gene == 'Pla1a'"}], "mark": {"type": "bar", "width": 11, "color": "#000000", "opacity": 0.45},
     "encoding": {"x": {"field": "grp", "type": "nominal", "scale": {"type": "point", "domain": ["(+)", "(-)"], "range": [39.7, 122.3], "padding": 0}, "axis": {"title": null, "labelPadding": 8}},
      "y": {"field": "q1", "type": "quantitative", "scale": {"domain": [0, 5.763], "nice": false, "zero": false}, "axis": null}, "y2": {"field": "q3"}}},
    {"data": {"name": "box"}, "transform": [{"filter": "datum.gene == 'Pla1a'"}], "mark": {"type": "tick", "orient": "horizontal", "size": 11, "thickness": 1, "color": "#000000", "opacity": 0.35},
     "encoding": {"x": {"field": "grp", "type": "nominal", "scale": {"type": "point", "domain": ["(+)", "(-)"], "range": [39.7, 122.3], "padding": 0}, "axis": null},
      "y": {"field": "med", "type": "quantitative", "scale": {"domain": [0, 5.763], "nice": false, "zero": false}, "axis": null}}}
   ]},
  {"width": 158, "height": 193, "title": {"text": "Ccn3", "offset": 3, "dx": -18.2}, "resolve": {"scale": {"x": "independent"}, "axis": {"y": "independent"}},
   "layer": [
    {"data": {"name": "box"}, "transform": [{"filter": "datum.gene == 'Ccn3' && datum.grp == '(+)'"}], "mark": {"type": "rule", "color": "#b4b4b4", "strokeWidth": 1.5},
     "encoding": {"y": {"datum": 0, "type": "quantitative", "scale": {"domain": [0, 5.778], "nice": false, "zero": false},
       "axis": {"title": null, "orient": "left", "labelOverlap": false, "labelFlush": false, "values": [0, 1.01, 2.04, 3.06, 4.1, 5, 5.13], "labelExpr": "datum.value == 0 ? '0.0' : datum.value == 5 ? '5.0' : ''",
        "gridOpacity": {"condition": {"test": "datum.value == 5", "value": 0}, "value": 1},
        "labelBaseline": {"condition": {"test": "datum.value == 0", "value": "alphabetic"}, "value": "middle"}}}}},
    {"data": {"name": "violin"}, "transform": [{"filter": "datum.gene == 'Ccn3' && datum.grp == '(+)'"}], "mark": {"type": "area", "orient": "horizontal", "interpolate": "monotone", "color": "#0000ff"},
     "encoding": {"x": {"field": "d", "type": "quantitative", "stack": null, "scale": {"domain": [0, 1], "range": [37, 57.5]}, "axis": null},
      "y": {"field": "v", "type": "quantitative", "scale": {"domain": [0, 5.778], "nice": false, "zero": false}, "axis": null}}},
    {"data": {"name": "violin"}, "transform": [{"filter": "datum.gene == 'Ccn3' && datum.grp == '(+)'"}], "mark": {"type": "area", "orient": "horizontal", "interpolate": "monotone", "color": "#0000ff"},
     "encoding": {"x": {"field": "d", "type": "quantitative", "stack": null, "scale": {"domain": [0, 1], "range": [37, 16.5]}, "axis": null},
      "y": {"field": "v", "type": "quantitative", "scale": {"domain": [0, 5.778], "nice": false, "zero": false}, "axis": null}}},
    {"data": {"name": "violin"}, "transform": [{"filter": "datum.gene == 'Ccn3' && datum.grp == '(-)'"}], "mark": {"type": "area", "orient": "horizontal", "interpolate": "monotone", "color": "#9e9e9e"},
     "encoding": {"x": {"field": "d", "type": "quantitative", "stack": null, "scale": {"domain": [0, 1], "range": [125.3, 145.8]}, "axis": null},
      "y": {"field": "v", "type": "quantitative", "scale": {"domain": [0, 5.778], "nice": false, "zero": false}, "axis": null}}},
    {"data": {"name": "violin"}, "transform": [{"filter": "datum.gene == 'Ccn3' && datum.grp == '(-)'"}], "mark": {"type": "area", "orient": "horizontal", "interpolate": "monotone", "color": "#9e9e9e"},
     "encoding": {"x": {"field": "d", "type": "quantitative", "stack": null, "scale": {"domain": [0, 1], "range": [125.3, 104.8]}, "axis": null},
      "y": {"field": "v", "type": "quantitative", "scale": {"domain": [0, 5.778], "nice": false, "zero": false}, "axis": null}}},
    {"data": {"name": "box"}, "transform": [{"filter": "datum.gene == 'Ccn3'"}], "mark": {"type": "rule", "color": "#222222", "opacity": 0.45, "strokeWidth": 1},
     "encoding": {"x": {"field": "grp", "type": "nominal", "scale": {"type": "point", "domain": ["(+)", "(-)"], "range": [37, 125.3], "padding": 0}, "axis": null},
      "y": {"field": "lo", "type": "quantitative", "scale": {"domain": [0, 5.778], "nice": false, "zero": false}, "axis": null}, "y2": {"field": "hi"}}},
    {"data": {"name": "box"}, "transform": [{"filter": "datum.gene == 'Ccn3'"}], "mark": {"type": "bar", "width": 11, "color": "#000000", "opacity": 0.45},
     "encoding": {"x": {"field": "grp", "type": "nominal", "scale": {"type": "point", "domain": ["(+)", "(-)"], "range": [37, 125.3], "padding": 0}, "axis": {"title": null, "labelPadding": 8}},
      "y": {"field": "q1", "type": "quantitative", "scale": {"domain": [0, 5.778], "nice": false, "zero": false}, "axis": null}, "y2": {"field": "q3"}}},
    {"data": {"name": "box"}, "transform": [{"filter": "datum.gene == 'Ccn3'"}], "mark": {"type": "tick", "orient": "horizontal", "size": 11, "thickness": 1, "color": "#000000", "opacity": 0.35},
     "encoding": {"x": {"field": "grp", "type": "nominal", "scale": {"type": "point", "domain": ["(+)", "(-)"], "range": [37, 125.3], "padding": 0}, "axis": null},
      "y": {"field": "med", "type": "quantitative", "scale": {"domain": [0, 5.778], "nice": false, "zero": false}, "axis": null}}}
   ]}
 ], "spacing": 110, "bounds": "flush"},
 {"spacing": 395, "bounds": "flush", "vconcat": [
  {"hconcat": [
   {"width": 124, "height": 197, "title": {"text": "Cd55", "offset": 6, "dx": -1.3}, "resolve": {"scale": {"x": "independent"}, "axis": {"y": "independent"}},
    "layer": [
     {"data": {"name": "box"}, "transform": [{"filter": "datum.gene == 'Cd55' && datum.grp == '(+)'"}], "mark": {"type": "rule", "color": "#b4b4b4", "strokeWidth": 1.5},
      "encoding": {"y": {"datum": 0, "type": "quantitative", "scale": {"domain": [0, 7.985], "nice": false, "zero": false},
        "axis": {"title": null, "orient": "left", "labelOverlap": false, "labelFlush": false, "values": [0, 1.05, 2.12, 3.17, 4.24, 5.31, 6.36, 7, 7.45], "labelExpr": "datum.value == 0 ? '0.0' : datum.value == 7 ? '7.0' : ''",
         "gridOpacity": {"condition": {"test": "datum.value == 7", "value": 0}, "value": 1},
         "labelBaseline": {"condition": {"test": "datum.value == 0", "value": "alphabetic"}, "value": "middle"}}}}},
     {"data": {"name": "violin"}, "transform": [{"filter": "datum.gene == 'Cd55' && datum.grp == '(+)'"}], "mark": {"type": "area", "orient": "horizontal", "interpolate": "monotone", "color": "#0000ff"},
      "encoding": {"x": {"field": "d", "type": "quantitative", "stack": null, "scale": {"domain": [0, 1], "range": [40, 60.5]}, "axis": null},
       "y": {"field": "v", "type": "quantitative", "scale": {"domain": [0, 7.985], "nice": false, "zero": false}, "axis": null}}},
     {"data": {"name": "violin"}, "transform": [{"filter": "datum.gene == 'Cd55' && datum.grp == '(+)'"}], "mark": {"type": "area", "orient": "horizontal", "interpolate": "monotone", "color": "#0000ff"},
      "encoding": {"x": {"field": "d", "type": "quantitative", "stack": null, "scale": {"domain": [0, 1], "range": [40, 19.5]}, "axis": null},
       "y": {"field": "v", "type": "quantitative", "scale": {"domain": [0, 7.985], "nice": false, "zero": false}, "axis": null}}},
     {"data": {"name": "violin"}, "transform": [{"filter": "datum.gene == 'Cd55' && datum.grp == '(-)'"}], "mark": {"type": "area", "orient": "horizontal", "interpolate": "monotone", "color": "#9e9e9e"},
      "encoding": {"x": {"field": "d", "type": "quantitative", "stack": null, "scale": {"domain": [0, 1], "range": [122.3, 142.8]}, "axis": null},
       "y": {"field": "v", "type": "quantitative", "scale": {"domain": [0, 7.985], "nice": false, "zero": false}, "axis": null}}},
     {"data": {"name": "violin"}, "transform": [{"filter": "datum.gene == 'Cd55' && datum.grp == '(-)'"}], "mark": {"type": "area", "orient": "horizontal", "interpolate": "monotone", "color": "#9e9e9e"},
      "encoding": {"x": {"field": "d", "type": "quantitative", "stack": null, "scale": {"domain": [0, 1], "range": [122.3, 101.8]}, "axis": null},
       "y": {"field": "v", "type": "quantitative", "scale": {"domain": [0, 7.985], "nice": false, "zero": false}, "axis": null}}},
     {"data": {"name": "box"}, "transform": [{"filter": "datum.gene == 'Cd55'"}], "mark": {"type": "rule", "color": "#222222", "opacity": 0.45, "strokeWidth": 1},
      "encoding": {"x": {"field": "grp", "type": "nominal", "scale": {"type": "point", "domain": ["(+)", "(-)"], "range": [40, 122.3], "padding": 0}, "axis": null},
       "y": {"field": "lo", "type": "quantitative", "scale": {"domain": [0, 7.985], "nice": false, "zero": false}, "axis": null}, "y2": {"field": "hi"}}},
     {"data": {"name": "box"}, "transform": [{"filter": "datum.gene == 'Cd55'"}], "mark": {"type": "bar", "width": 11, "color": "#000000", "opacity": 0.45},
      "encoding": {"x": {"field": "grp", "type": "nominal", "scale": {"type": "point", "domain": ["(+)", "(-)"], "range": [40, 122.3], "padding": 0}, "axis": {"title": null, "labelPadding": -5}},
       "y": {"field": "q1", "type": "quantitative", "scale": {"domain": [0, 7.985], "nice": false, "zero": false}, "axis": null}, "y2": {"field": "q3"}}},
     {"data": {"name": "box"}, "transform": [{"filter": "datum.gene == 'Cd55'"}], "mark": {"type": "tick", "orient": "horizontal", "size": 11, "thickness": 1, "color": "#000000", "opacity": 0.35},
      "encoding": {"x": {"field": "grp", "type": "nominal", "scale": {"type": "point", "domain": ["(+)", "(-)"], "range": [40, 122.3], "padding": 0}, "axis": null},
       "y": {"field": "med", "type": "quantitative", "scale": {"domain": [0, 7.985], "nice": false, "zero": false}, "axis": null}}}
    ]},
   {"width": 168, "height": 198, "title": {"text": "Fbn1", "offset": 6, "dx": -24}, "resolve": {"scale": {"x": "independent"}, "axis": {"y": "independent"}},
    "layer": [
     {"data": {"name": "box"}, "transform": [{"filter": "datum.gene == 'Fbn1' && datum.grp == '(+)'"}], "mark": {"type": "rule", "color": "#b4b4b4", "strokeWidth": 1.5},
      "encoding": {"y": {"datum": 0, "type": "quantitative", "scale": {"domain": [0, 9.12], "nice": false, "zero": false},
        "axis": {"title": null, "orient": "left", "labelOverlap": false, "labelFlush": false, "values": [0, 1.01, 2.03, 3.05, 4.05, 5.1, 6.09, 7.13, 8, 8.12], "labelExpr": "datum.value == 0 ? '0.0' : datum.value == 8 ? '8.0' : ''",
         "gridOpacity": {"condition": {"test": "datum.value == 8", "value": 0}, "value": 1},
         "labelBaseline": {"condition": {"test": "datum.value == 0", "value": "alphabetic"}, "value": "middle"}}}}},
     {"data": {"name": "violin"}, "transform": [{"filter": "datum.gene == 'Fbn1' && datum.grp == '(+)'"}], "mark": {"type": "area", "orient": "horizontal", "interpolate": "monotone", "color": "#0000ff"},
      "encoding": {"x": {"field": "d", "type": "quantitative", "stack": null, "scale": {"domain": [0, 1], "range": [38.7, 59.2]}, "axis": null},
       "y": {"field": "v", "type": "quantitative", "scale": {"domain": [0, 9.12], "nice": false, "zero": false}, "axis": null}}},
     {"data": {"name": "violin"}, "transform": [{"filter": "datum.gene == 'Fbn1' && datum.grp == '(+)'"}], "mark": {"type": "area", "orient": "horizontal", "interpolate": "monotone", "color": "#0000ff"},
      "encoding": {"x": {"field": "d", "type": "quantitative", "stack": null, "scale": {"domain": [0, 1], "range": [38.7, 18.2]}, "axis": null},
       "y": {"field": "v", "type": "quantitative", "scale": {"domain": [0, 9.12], "nice": false, "zero": false}, "axis": null}}},
     {"data": {"name": "violin"}, "transform": [{"filter": "datum.gene == 'Fbn1' && datum.grp == '(-)'"}], "mark": {"type": "area", "orient": "horizontal", "interpolate": "monotone", "color": "#9e9e9e"},
      "encoding": {"x": {"field": "d", "type": "quantitative", "stack": null, "scale": {"domain": [0, 1], "range": [120, 140.5]}, "axis": null},
       "y": {"field": "v", "type": "quantitative", "scale": {"domain": [0, 9.12], "nice": false, "zero": false}, "axis": null}}},
     {"data": {"name": "violin"}, "transform": [{"filter": "datum.gene == 'Fbn1' && datum.grp == '(-)'"}], "mark": {"type": "area", "orient": "horizontal", "interpolate": "monotone", "color": "#9e9e9e"},
      "encoding": {"x": {"field": "d", "type": "quantitative", "stack": null, "scale": {"domain": [0, 1], "range": [120, 99.5]}, "axis": null},
       "y": {"field": "v", "type": "quantitative", "scale": {"domain": [0, 9.12], "nice": false, "zero": false}, "axis": null}}},
     {"data": {"name": "box"}, "transform": [{"filter": "datum.gene == 'Fbn1'"}], "mark": {"type": "rule", "color": "#222222", "opacity": 0.45, "strokeWidth": 1},
      "encoding": {"x": {"field": "grp", "type": "nominal", "scale": {"type": "point", "domain": ["(+)", "(-)"], "range": [38.7, 120], "padding": 0}, "axis": null},
       "y": {"field": "lo", "type": "quantitative", "scale": {"domain": [0, 9.12], "nice": false, "zero": false}, "axis": null}, "y2": {"field": "hi"}}},
     {"data": {"name": "box"}, "transform": [{"filter": "datum.gene == 'Fbn1'"}], "mark": {"type": "bar", "width": 11, "color": "#000000", "opacity": 0.45},
      "encoding": {"x": {"field": "grp", "type": "nominal", "scale": {"type": "point", "domain": ["(+)", "(-)"], "range": [38.7, 120], "padding": 0}, "axis": {"title": null, "labelPadding": -5}},
       "y": {"field": "q1", "type": "quantitative", "scale": {"domain": [0, 9.12], "nice": false, "zero": false}, "axis": null}, "y2": {"field": "q3"}}},
     {"data": {"name": "box"}, "transform": [{"filter": "datum.gene == 'Fbn1'"}], "mark": {"type": "tick", "orient": "horizontal", "size": 11, "thickness": 1, "color": "#000000", "opacity": 0.35},
      "encoding": {"x": {"field": "grp", "type": "nominal", "scale": {"type": "point", "domain": ["(+)", "(-)"], "range": [38.7, 120], "padding": 0}, "axis": null},
       "y": {"field": "med", "type": "quantitative", "scale": {"domain": [0, 9.12], "nice": false, "zero": false}, "axis": null}}}
    ]},
   {"width": 155, "height": 193, "title": {"text": "Pcsk6", "offset": 6, "dx": -15.5}, "resolve": {"scale": {"x": "independent"}, "axis": {"y": "independent"}},
    "layer": [
     {"data": {"name": "box"}, "transform": [{"filter": "datum.gene == 'Pcsk6' && datum.grp == '(+)'"}], "mark": {"type": "rule", "color": "#b4b4b4", "strokeWidth": 1.5},
      "encoding": {"y": {"datum": 0, "type": "quantitative", "scale": {"domain": [0, 6.863], "nice": false, "zero": false},
        "axis": {"title": null, "orient": "left", "labelOverlap": false, "labelFlush": false, "values": [0, 1.03, 2.04, 3.05, 4.05, 5.09, 6, 6.09], "labelExpr": "datum.value == 0 ? '0.0' : datum.value == 6 ? '6.0' : ''",
         "gridOpacity": {"condition": {"test": "datum.value == 6", "value": 0}, "value": 1},
         "labelBaseline": {"condition": {"test": "datum.value == 0", "value": "alphabetic"}, "value": "middle"}}}}},
     {"data": {"name": "violin"}, "transform": [{"filter": "datum.gene == 'Pcsk6' && datum.grp == '(+)'"}], "mark": {"type": "area", "orient": "horizontal", "interpolate": "monotone", "color": "#0000ff"},
      "encoding": {"x": {"field": "d", "type": "quantitative", "stack": null, "scale": {"domain": [0, 1], "range": [35.3, 55.8]}, "axis": null},
       "y": {"field": "v", "type": "quantitative", "scale": {"domain": [0, 6.863], "nice": false, "zero": false}, "axis": null}}},
     {"data": {"name": "violin"}, "transform": [{"filter": "datum.gene == 'Pcsk6' && datum.grp == '(+)'"}], "mark": {"type": "area", "orient": "horizontal", "interpolate": "monotone", "color": "#0000ff"},
      "encoding": {"x": {"field": "d", "type": "quantitative", "stack": null, "scale": {"domain": [0, 1], "range": [35.3, 14.8]}, "axis": null},
       "y": {"field": "v", "type": "quantitative", "scale": {"domain": [0, 6.863], "nice": false, "zero": false}, "axis": null}}},
     {"data": {"name": "violin"}, "transform": [{"filter": "datum.gene == 'Pcsk6' && datum.grp == '(-)'"}], "mark": {"type": "area", "orient": "horizontal", "interpolate": "monotone", "color": "#9e9e9e"},
      "encoding": {"x": {"field": "d", "type": "quantitative", "stack": null, "scale": {"domain": [0, 1], "range": [119.7, 140.2]}, "axis": null},
       "y": {"field": "v", "type": "quantitative", "scale": {"domain": [0, 6.863], "nice": false, "zero": false}, "axis": null}}},
     {"data": {"name": "violin"}, "transform": [{"filter": "datum.gene == 'Pcsk6' && datum.grp == '(-)'"}], "mark": {"type": "area", "orient": "horizontal", "interpolate": "monotone", "color": "#9e9e9e"},
      "encoding": {"x": {"field": "d", "type": "quantitative", "stack": null, "scale": {"domain": [0, 1], "range": [119.7, 99.2]}, "axis": null},
       "y": {"field": "v", "type": "quantitative", "scale": {"domain": [0, 6.863], "nice": false, "zero": false}, "axis": null}}},
     {"data": {"name": "box"}, "transform": [{"filter": "datum.gene == 'Pcsk6'"}], "mark": {"type": "rule", "color": "#222222", "opacity": 0.45, "strokeWidth": 1},
      "encoding": {"x": {"field": "grp", "type": "nominal", "scale": {"type": "point", "domain": ["(+)", "(-)"], "range": [35.3, 119.7], "padding": 0}, "axis": null},
       "y": {"field": "lo", "type": "quantitative", "scale": {"domain": [0, 6.863], "nice": false, "zero": false}, "axis": null}, "y2": {"field": "hi"}}},
     {"data": {"name": "box"}, "transform": [{"filter": "datum.gene == 'Pcsk6'"}], "mark": {"type": "bar", "width": 11, "color": "#000000", "opacity": 0.45},
      "encoding": {"x": {"field": "grp", "type": "nominal", "scale": {"type": "point", "domain": ["(+)", "(-)"], "range": [35.3, 119.7], "padding": 0}, "axis": {"title": null, "labelPadding": -5}},
       "y": {"field": "q1", "type": "quantitative", "scale": {"domain": [0, 6.863], "nice": false, "zero": false}, "axis": null}, "y2": {"field": "q3"}}},
     {"data": {"name": "box"}, "transform": [{"filter": "datum.gene == 'Pcsk6'"}], "mark": {"type": "tick", "orient": "horizontal", "size": 11, "thickness": 1, "color": "#000000", "opacity": 0.35},
      "encoding": {"x": {"field": "grp", "type": "nominal", "scale": {"type": "point", "domain": ["(+)", "(-)"], "range": [35.3, 119.7], "padding": 0}, "axis": null},
       "y": {"field": "med", "type": "quantitative", "scale": {"domain": [0, 6.863], "nice": false, "zero": false}, "axis": null}}}
    ]},
   {"width": 140, "height": 195, "title": {"text": "Adamts5", "offset": 6, "dx": -11.3}, "resolve": {"scale": {"x": "independent"}, "axis": {"y": "independent"}},
    "layer": [
     {"data": {"name": "box"}, "transform": [{"filter": "datum.gene == 'Adamts5' && datum.grp == '(+)'"}], "mark": {"type": "rule", "color": "#b4b4b4", "strokeWidth": 1.5},
      "encoding": {"y": {"datum": 0, "type": "quantitative", "scale": {"domain": [0, 6.854], "nice": false, "zero": false},
        "axis": {"title": null, "orient": "left", "labelOverlap": false, "labelFlush": false, "values": [0, 1.02, 2.05, 3.06, 4.07, 5.06, 6, 6.06], "labelExpr": "datum.value == 0 ? '0.0' : datum.value == 6 ? '6.0' : ''",
         "gridOpacity": {"condition": {"test": "datum.value == 6", "value": 0}, "value": 1},
         "labelBaseline": {"condition": {"test": "datum.value == 0", "value": "alphabetic"}, "value": "middle"}}}}},
     {"data": {"name": "violin"}, "transform": [{"filter": "datum.gene == 'Adamts5' && datum.grp == '(+)'"}], "mark": {"type": "area", "orient": "horizontal", "interpolate": "monotone", "color": "#0000ff"},
      "encoding": {"x": {"field": "d", "type": "quantitative", "stack": null, "scale": {"domain": [0, 1], "range": [36.3, 56.8]}, "axis": null},
       "y": {"field": "v", "type": "quantitative", "scale": {"domain": [0, 6.854], "nice": false, "zero": false}, "axis": null}}},
     {"data": {"name": "violin"}, "transform": [{"filter": "datum.gene == 'Adamts5' && datum.grp == '(+)'"}], "mark": {"type": "area", "orient": "horizontal", "interpolate": "monotone", "color": "#0000ff"},
      "encoding": {"x": {"field": "d", "type": "quantitative", "stack": null, "scale": {"domain": [0, 1], "range": [36.3, 15.8]}, "axis": null},
       "y": {"field": "v", "type": "quantitative", "scale": {"domain": [0, 6.854], "nice": false, "zero": false}, "axis": null}}},
     {"data": {"name": "violin"}, "transform": [{"filter": "datum.gene == 'Adamts5' && datum.grp == '(-)'"}], "mark": {"type": "area", "orient": "horizontal", "interpolate": "monotone", "color": "#9e9e9e"},
      "encoding": {"x": {"field": "d", "type": "quantitative", "stack": null, "scale": {"domain": [0, 1], "range": [118.7, 139.2]}, "axis": null},
       "y": {"field": "v", "type": "quantitative", "scale": {"domain": [0, 6.854], "nice": false, "zero": false}, "axis": null}}},
     {"data": {"name": "violin"}, "transform": [{"filter": "datum.gene == 'Adamts5' && datum.grp == '(-)'"}], "mark": {"type": "area", "orient": "horizontal", "interpolate": "monotone", "color": "#9e9e9e"},
      "encoding": {"x": {"field": "d", "type": "quantitative", "stack": null, "scale": {"domain": [0, 1], "range": [118.7, 98.2]}, "axis": null},
       "y": {"field": "v", "type": "quantitative", "scale": {"domain": [0, 6.854], "nice": false, "zero": false}, "axis": null}}},
     {"data": {"name": "box"}, "transform": [{"filter": "datum.gene == 'Adamts5'"}], "mark": {"type": "rule", "color": "#222222", "opacity": 0.45, "strokeWidth": 1},
      "encoding": {"x": {"field": "grp", "type": "nominal", "scale": {"type": "point", "domain": ["(+)", "(-)"], "range": [36.3, 118.7], "padding": 0}, "axis": null},
       "y": {"field": "lo", "type": "quantitative", "scale": {"domain": [0, 6.854], "nice": false, "zero": false}, "axis": null}, "y2": {"field": "hi"}}},
     {"data": {"name": "box"}, "transform": [{"filter": "datum.gene == 'Adamts5'"}], "mark": {"type": "bar", "width": 11, "color": "#000000", "opacity": 0.45},
      "encoding": {"x": {"field": "grp", "type": "nominal", "scale": {"type": "point", "domain": ["(+)", "(-)"], "range": [36.3, 118.7], "padding": 0}, "axis": {"title": null, "labelPadding": -5}},
       "y": {"field": "q1", "type": "quantitative", "scale": {"domain": [0, 6.854], "nice": false, "zero": false}, "axis": null}, "y2": {"field": "q3"}}},
     {"data": {"name": "box"}, "transform": [{"filter": "datum.gene == 'Adamts5'"}], "mark": {"type": "tick", "orient": "horizontal", "size": 11, "thickness": 1, "color": "#000000", "opacity": 0.35},
      "encoding": {"x": {"field": "grp", "type": "nominal", "scale": {"type": "point", "domain": ["(+)", "(-)"], "range": [36.3, 118.7], "padding": 0}, "axis": null},
       "y": {"field": "med", "type": "quantitative", "scale": {"domain": [0, 6.854], "nice": false, "zero": false}, "axis": null}}}
    ]}
  ], "spacing": 110, "bounds": "flush"},
  {"hconcat": [
   {"width": 154, "height": 199, "title": {"text": "Uap1", "offset": 9, "dx": -11}, "resolve": {"scale": {"x": "independent"}, "axis": {"y": "independent"}},
    "layer": [
     {"data": {"name": "box"}, "transform": [{"filter": "datum.gene == 'Uap1' && datum.grp == '(+)'"}], "mark": {"type": "rule", "color": "#b4b4b4", "strokeWidth": 1.5},
      "encoding": {"y": {"datum": 0, "type": "quantitative", "scale": {"domain": [0, 6.822], "nice": false, "zero": false},
        "axis": {"title": null, "orient": "left", "labelOverlap": false, "labelFlush": false, "values": [0, 1.03, 2, 2.99, 3.97, 4.94, 5.94, 6], "labelExpr": "datum.value == 0 ? '0.0' : datum.value == 6 ? '6.0' : ''",
         "gridOpacity": {"condition": {"test": "datum.value == 6", "value": 0}, "value": 1},
         "labelBaseline": {"condition": {"test": "datum.value == 0", "value": "alphabetic"}, "value": "middle"}}}}},
     {"data": {"name": "violin"}, "transform": [{"filter": "datum.gene == 'Uap1' && datum.grp == '(+)'"}], "mark": {"type": "area", "orient": "horizontal", "interpolate": "monotone", "color": "#0000ff"},
      "encoding": {"x": {"field": "d", "type": "quantitative", "stack": null, "scale": {"domain": [0, 1], "range": [43.3, 63.8]}, "axis": null},
       "y": {"field": "v", "type": "quantitative", "scale": {"domain": [0, 6.822], "nice": false, "zero": false}, "axis": null}}},
     {"data": {"name": "violin"}, "transform": [{"filter": "datum.gene == 'Uap1' && datum.grp == '(+)'"}], "mark": {"type": "area", "orient": "horizontal", "interpolate": "monotone", "color": "#0000ff"},
      "encoding": {"x": {"field": "d", "type": "quantitative", "stack": null, "scale": {"domain": [0, 1], "range": [43.3, 22.8]}, "axis": null},
       "y": {"field": "v", "type": "quantitative", "scale": {"domain": [0, 6.822], "nice": false, "zero": false}, "axis": null}}},
     {"data": {"name": "violin"}, "transform": [{"filter": "datum.gene == 'Uap1' && datum.grp == '(-)'"}], "mark": {"type": "area", "orient": "horizontal", "interpolate": "monotone", "color": "#9e9e9e"},
      "encoding": {"x": {"field": "d", "type": "quantitative", "stack": null, "scale": {"domain": [0, 1], "range": [128, 148.5]}, "axis": null},
       "y": {"field": "v", "type": "quantitative", "scale": {"domain": [0, 6.822], "nice": false, "zero": false}, "axis": null}}},
     {"data": {"name": "violin"}, "transform": [{"filter": "datum.gene == 'Uap1' && datum.grp == '(-)'"}], "mark": {"type": "area", "orient": "horizontal", "interpolate": "monotone", "color": "#9e9e9e"},
      "encoding": {"x": {"field": "d", "type": "quantitative", "stack": null, "scale": {"domain": [0, 1], "range": [128, 107.5]}, "axis": null},
       "y": {"field": "v", "type": "quantitative", "scale": {"domain": [0, 6.822], "nice": false, "zero": false}, "axis": null}}},
     {"data": {"name": "box"}, "transform": [{"filter": "datum.gene == 'Uap1'"}], "mark": {"type": "rule", "color": "#222222", "opacity": 0.45, "strokeWidth": 1},
      "encoding": {"x": {"field": "grp", "type": "nominal", "scale": {"type": "point", "domain": ["(+)", "(-)"], "range": [43.3, 128], "padding": 0}, "axis": null},
       "y": {"field": "lo", "type": "quantitative", "scale": {"domain": [0, 6.822], "nice": false, "zero": false}, "axis": null}, "y2": {"field": "hi"}}},
     {"data": {"name": "box"}, "transform": [{"filter": "datum.gene == 'Uap1'"}], "mark": {"type": "bar", "width": 11, "color": "#000000", "opacity": 0.45},
      "encoding": {"x": {"field": "grp", "type": "nominal", "scale": {"type": "point", "domain": ["(+)", "(-)"], "range": [43.3, 128], "padding": 0}, "axis": {"title": null, "labelPadding": 3}},
       "y": {"field": "q1", "type": "quantitative", "scale": {"domain": [0, 6.822], "nice": false, "zero": false}, "axis": null}, "y2": {"field": "q3"}}},
     {"data": {"name": "box"}, "transform": [{"filter": "datum.gene == 'Uap1'"}], "mark": {"type": "tick", "orient": "horizontal", "size": 11, "thickness": 1, "color": "#000000", "opacity": 0.35},
      "encoding": {"x": {"field": "grp", "type": "nominal", "scale": {"type": "point", "domain": ["(+)", "(-)"], "range": [43.3, 128], "padding": 0}, "axis": null},
       "y": {"field": "med", "type": "quantitative", "scale": {"domain": [0, 6.822], "nice": false, "zero": false}, "axis": null}}}
    ]},
   {"width": 150, "height": 199, "title": {"text": "Pcolce2", "offset": 9, "dx": -16}, "resolve": {"scale": {"x": "independent"}, "axis": {"y": "independent"}},
    "layer": [
     {"data": {"name": "box"}, "transform": [{"filter": "datum.gene == 'Pcolce2' && datum.grp == '(+)'"}], "mark": {"type": "rule", "color": "#b4b4b4", "strokeWidth": 1.5},
      "encoding": {"y": {"datum": 0, "type": "quantitative", "scale": {"domain": [0, 6.796], "nice": false, "zero": false},
        "axis": {"title": null, "orient": "left", "labelOverlap": false, "labelFlush": false, "values": [0, 1.07, 2.11, 3.15, 4.2, 5.24, 6, 6.31], "labelExpr": "datum.value == 0 ? '0.0' : datum.value == 6 ? '6.0' : ''",
         "gridOpacity": {"condition": {"test": "datum.value == 6", "value": 0}, "value": 1},
         "labelBaseline": {"condition": {"test": "datum.value == 0", "value": "alphabetic"}, "value": "middle"}}}}},
     {"data": {"name": "violin"}, "transform": [{"filter": "datum.gene == 'Pcolce2' && datum.grp == '(+)'"}], "mark": {"type": "area", "orient": "horizontal", "interpolate": "monotone", "color": "#0000ff"},
      "encoding": {"x": {"field": "d", "type": "quantitative", "stack": null, "scale": {"domain": [0, 1], "range": [39, 59.5]}, "axis": null},
       "y": {"field": "v", "type": "quantitative", "scale": {"domain": [0, 6.796], "nice": false, "zero": false}, "axis": null}}},
     {"data": {"name": "violin"}, "transform": [{"filter": "datum.gene == 'Pcolce2' && datum.grp == '(+)'"}], "mark": {"type": "area", "orient": "horizontal", "interpolate": "monotone", "color": "#0000ff"},
      "encoding": {"x": {"field": "d", "type": "quantitative", "stack": null, "scale": {"domain": [0, 1], "range": [39, 18.5]}, "axis": null},
       "y": {"field": "v", "type": "quantitative", "scale": {"domain": [0, 6.796], "nice": false, "zero": false}, "axis": null}}},
     {"data": {"name": "violin"}, "transform": [{"filter": "datum.gene == 'Pcolce2' && datum.grp == '(-)'"}], "mark": {"type": "area", "orient": "horizontal", "interpolate": "monotone", "color": "#9e9e9e"},
      "encoding": {"x": {"field": "d", "type": "quantitative", "stack": null, "scale": {"domain": [0, 1], "range": [120.7, 141.2]}, "axis": null},
       "y": {"field": "v", "type": "quantitative", "scale": {"domain": [0, 6.796], "nice": false, "zero": false}, "axis": null}}},
     {"data": {"name": "violin"}, "transform": [{"filter": "datum.gene == 'Pcolce2' && datum.grp == '(-)'"}], "mark": {"type": "area", "orient": "horizontal", "interpolate": "monotone", "color": "#9e9e9e"},
      "encoding": {"x": {"field": "d", "type": "quantitative", "stack": null, "scale": {"domain": [0, 1], "range": [120.7, 100.2]}, "axis": null},
       "y": {"field": "v", "type": "quantitative", "scale": {"domain": [0, 6.796], "nice": false, "zero": false}, "axis": null}}},
     {"data": {"name": "box"}, "transform": [{"filter": "datum.gene == 'Pcolce2'"}], "mark": {"type": "rule", "color": "#222222", "opacity": 0.45, "strokeWidth": 1},
      "encoding": {"x": {"field": "grp", "type": "nominal", "scale": {"type": "point", "domain": ["(+)", "(-)"], "range": [39, 120.7], "padding": 0}, "axis": null},
       "y": {"field": "lo", "type": "quantitative", "scale": {"domain": [0, 6.796], "nice": false, "zero": false}, "axis": null}, "y2": {"field": "hi"}}},
     {"data": {"name": "box"}, "transform": [{"filter": "datum.gene == 'Pcolce2'"}], "mark": {"type": "bar", "width": 11, "color": "#000000", "opacity": 0.45},
      "encoding": {"x": {"field": "grp", "type": "nominal", "scale": {"type": "point", "domain": ["(+)", "(-)"], "range": [39, 120.7], "padding": 0}, "axis": {"title": null, "labelPadding": 3}},
       "y": {"field": "q1", "type": "quantitative", "scale": {"domain": [0, 6.796], "nice": false, "zero": false}, "axis": null}, "y2": {"field": "q3"}}},
     {"data": {"name": "box"}, "transform": [{"filter": "datum.gene == 'Pcolce2'"}], "mark": {"type": "tick", "orient": "horizontal", "size": 11, "thickness": 1, "color": "#000000", "opacity": 0.35},
      "encoding": {"x": {"field": "grp", "type": "nominal", "scale": {"type": "point", "domain": ["(+)", "(-)"], "range": [39, 120.7], "padding": 0}, "axis": null},
       "y": {"field": "med", "type": "quantitative", "scale": {"domain": [0, 6.796], "nice": false, "zero": false}, "axis": null}}}
    ]},
   {"width": 138, "height": 199, "title": {"text": "Cd248", "offset": 9, "dx": -8}, "resolve": {"scale": {"x": "independent"}, "axis": {"y": "independent"}},
    "layer": [
     {"data": {"name": "box"}, "transform": [{"filter": "datum.gene == 'Cd248' && datum.grp == '(+)'"}], "mark": {"type": "rule", "color": "#b4b4b4", "strokeWidth": 1.5},
      "encoding": {"y": {"datum": 0, "type": "quantitative", "scale": {"domain": [0, 6.81], "nice": false, "zero": false},
        "axis": {"title": null, "orient": "left", "labelOverlap": false, "labelFlush": false, "values": [0, 1, 2, 3, 4, 5, 6], "labelExpr": "datum.value == 0 ? '0.0' : datum.value == 6 ? '6.0' : ''",
         "labelBaseline": {"condition": {"test": "datum.value == 0", "value": "alphabetic"}, "value": "middle"}}}}},
     {"data": {"name": "violin"}, "transform": [{"filter": "datum.gene == 'Cd248' && datum.grp == '(+)'"}], "mark": {"type": "area", "orient": "horizontal", "interpolate": "monotone", "color": "#0000ff"},
      "encoding": {"x": {"field": "d", "type": "quantitative", "stack": null, "scale": {"domain": [0, 1], "range": [36.7, 57.2]}, "axis": null},
       "y": {"field": "v", "type": "quantitative", "scale": {"domain": [0, 6.81], "nice": false, "zero": false}, "axis": null}}},
     {"data": {"name": "violin"}, "transform": [{"filter": "datum.gene == 'Cd248' && datum.grp == '(+)'"}], "mark": {"type": "area", "orient": "horizontal", "interpolate": "monotone", "color": "#0000ff"},
      "encoding": {"x": {"field": "d", "type": "quantitative", "stack": null, "scale": {"domain": [0, 1], "range": [36.7, 16.2]}, "axis": null},
       "y": {"field": "v", "type": "quantitative", "scale": {"domain": [0, 6.81], "nice": false, "zero": false}, "axis": null}}},
     {"data": {"name": "violin"}, "transform": [{"filter": "datum.gene == 'Cd248' && datum.grp == '(-)'"}], "mark": {"type": "area", "orient": "horizontal", "interpolate": "monotone", "color": "#9e9e9e"},
      "encoding": {"x": {"field": "d", "type": "quantitative", "stack": null, "scale": {"domain": [0, 1], "range": [119.3, 139.8]}, "axis": null},
       "y": {"field": "v", "type": "quantitative", "scale": {"domain": [0, 6.81], "nice": false, "zero": false}, "axis": null}}},
     {"data": {"name": "violin"}, "transform": [{"filter": "datum.gene == 'Cd248' && datum.grp == '(-)'"}], "mark": {"type": "area", "orient": "horizontal", "interpolate": "monotone", "color": "#9e9e9e"},
      "encoding": {"x": {"field": "d", "type": "quantitative", "stack": null, "scale": {"domain": [0, 1], "range": [119.3, 98.8]}, "axis": null},
       "y": {"field": "v", "type": "quantitative", "scale": {"domain": [0, 6.81], "nice": false, "zero": false}, "axis": null}}},
     {"data": {"name": "box"}, "transform": [{"filter": "datum.gene == 'Cd248'"}], "mark": {"type": "rule", "color": "#222222", "opacity": 0.45, "strokeWidth": 1},
      "encoding": {"x": {"field": "grp", "type": "nominal", "scale": {"type": "point", "domain": ["(+)", "(-)"], "range": [36.7, 119.3], "padding": 0}, "axis": null},
       "y": {"field": "lo", "type": "quantitative", "scale": {"domain": [0, 6.81], "nice": false, "zero": false}, "axis": null}, "y2": {"field": "hi"}}},
     {"data": {"name": "box"}, "transform": [{"filter": "datum.gene == 'Cd248'"}], "mark": {"type": "bar", "width": 11, "color": "#000000", "opacity": 0.45},
      "encoding": {"x": {"field": "grp", "type": "nominal", "scale": {"type": "point", "domain": ["(+)", "(-)"], "range": [36.7, 119.3], "padding": 0}, "axis": {"title": null, "labelPadding": 3}},
       "y": {"field": "q1", "type": "quantitative", "scale": {"domain": [0, 6.81], "nice": false, "zero": false}, "axis": null}, "y2": {"field": "q3"}}},
     {"data": {"name": "box"}, "transform": [{"filter": "datum.gene == 'Cd248'"}], "mark": {"type": "tick", "orient": "horizontal", "size": 11, "thickness": 1, "color": "#000000", "opacity": 0.35},
      "encoding": {"x": {"field": "grp", "type": "nominal", "scale": {"type": "point", "domain": ["(+)", "(-)"], "range": [36.7, 119.3], "padding": 0}, "axis": null},
       "y": {"field": "med", "type": "quantitative", "scale": {"domain": [0, 6.81], "nice": false, "zero": false}, "axis": null}}}
    ]},
   {"width": 164, "height": 199, "title": {"text": "Fn1", "offset": 9, "dx": -15.5}, "resolve": {"scale": {"x": "independent"}, "axis": {"y": "independent"}},
    "layer": [
     {"data": {"name": "box"}, "transform": [{"filter": "datum.gene == 'Fn1' && datum.grp == '(+)'"}], "mark": {"type": "rule", "color": "#b4b4b4", "strokeWidth": 1.5},
      "encoding": {"y": {"datum": -1.104, "type": "quantitative", "scale": {"domain": [-1.104, 9.207], "nice": false, "zero": false},
        "axis": {"title": null, "orient": "left", "labelOverlap": false, "labelFlush": false, "values": [0, 1.09, 2.26, 3.37, 4.46, 5.58, 6.7, 7.82, 8], "labelExpr": "datum.value == 0 ? '0.0' : datum.value == 8 ? '8.0' : ''",
         "gridOpacity": {"condition": {"test": "datum.value == 8", "value": 0}, "value": 1}}}}},
     {"data": {"name": "violin"}, "transform": [{"filter": "datum.gene == 'Fn1' && datum.grp == '(+)'"}], "mark": {"type": "area", "orient": "horizontal", "interpolate": "monotone", "color": "#0000ff"},
      "encoding": {"x": {"field": "d", "type": "quantitative", "stack": null, "scale": {"domain": [0, 1], "range": [37, 57.5]}, "axis": null},
       "y": {"field": "v", "type": "quantitative", "scale": {"domain": [-1.104, 9.207], "nice": false, "zero": false}, "axis": null}}},
     {"data": {"name": "violin"}, "transform": [{"filter": "datum.gene == 'Fn1' && datum.grp == '(+)'"}], "mark": {"type": "area", "orient": "horizontal", "interpolate": "monotone", "color": "#0000ff"},
      "encoding": {"x": {"field": "d", "type": "quantitative", "stack": null, "scale": {"domain": [0, 1], "range": [37, 16.5]}, "axis": null},
       "y": {"field": "v", "type": "quantitative", "scale": {"domain": [-1.104, 9.207], "nice": false, "zero": false}, "axis": null}}},
     {"data": {"name": "violin"}, "transform": [{"filter": "datum.gene == 'Fn1' && datum.grp == '(-)'"}], "mark": {"type": "area", "orient": "horizontal", "interpolate": "monotone", "color": "#9e9e9e"},
      "encoding": {"x": {"field": "d", "type": "quantitative", "stack": null, "scale": {"domain": [0, 1], "range": [120.3, 140.8]}, "axis": null},
       "y": {"field": "v", "type": "quantitative", "scale": {"domain": [-1.104, 9.207], "nice": false, "zero": false}, "axis": null}}},
     {"data": {"name": "violin"}, "transform": [{"filter": "datum.gene == 'Fn1' && datum.grp == '(-)'"}], "mark": {"type": "area", "orient": "horizontal", "interpolate": "monotone", "color": "#9e9e9e"},
      "encoding": {"x": {"field": "d", "type": "quantitative", "stack": null, "scale": {"domain": [0, 1], "range": [120.3, 99.8]}, "axis": null},
       "y": {"field": "v", "type": "quantitative", "scale": {"domain": [-1.104, 9.207], "nice": false, "zero": false}, "axis": null}}},
     {"data": {"name": "box"}, "transform": [{"filter": "datum.gene == 'Fn1'"}], "mark": {"type": "rule", "color": "#222222", "opacity": 0.45, "strokeWidth": 1},
      "encoding": {"x": {"field": "grp", "type": "nominal", "scale": {"type": "point", "domain": ["(+)", "(-)"], "range": [37, 120.3], "padding": 0}, "axis": null},
       "y": {"field": "lo", "type": "quantitative", "scale": {"domain": [-1.104, 9.207], "nice": false, "zero": false}, "axis": null}, "y2": {"field": "hi"}}},
     {"data": {"name": "box"}, "transform": [{"filter": "datum.gene == 'Fn1'"}], "mark": {"type": "bar", "width": 11, "color": "#000000", "opacity": 0.45},
      "encoding": {"x": {"field": "grp", "type": "nominal", "scale": {"type": "point", "domain": ["(+)", "(-)"], "range": [37, 120.3], "padding": 0}, "axis": {"title": null, "labelPadding": 3}},
       "y": {"field": "q1", "type": "quantitative", "scale": {"domain": [-1.104, 9.207], "nice": false, "zero": false}, "axis": null}, "y2": {"field": "q3"}}},
     {"data": {"name": "box"}, "transform": [{"filter": "datum.gene == 'Fn1'"}], "mark": {"type": "tick", "orient": "horizontal", "size": 11, "thickness": 1, "color": "#000000", "opacity": 0.35},
      "encoding": {"x": {"field": "grp", "type": "nominal", "scale": {"type": "point", "domain": ["(+)", "(-)"], "range": [37, 120.3], "padding": 0}, "axis": null},
       "y": {"field": "med", "type": "quantitative", "scale": {"domain": [-1.104, 9.207], "nice": false, "zero": false}, "axis": null}}}
    ]}
  ], "spacing": 110, "bounds": "flush"}
 ]}
]
}
